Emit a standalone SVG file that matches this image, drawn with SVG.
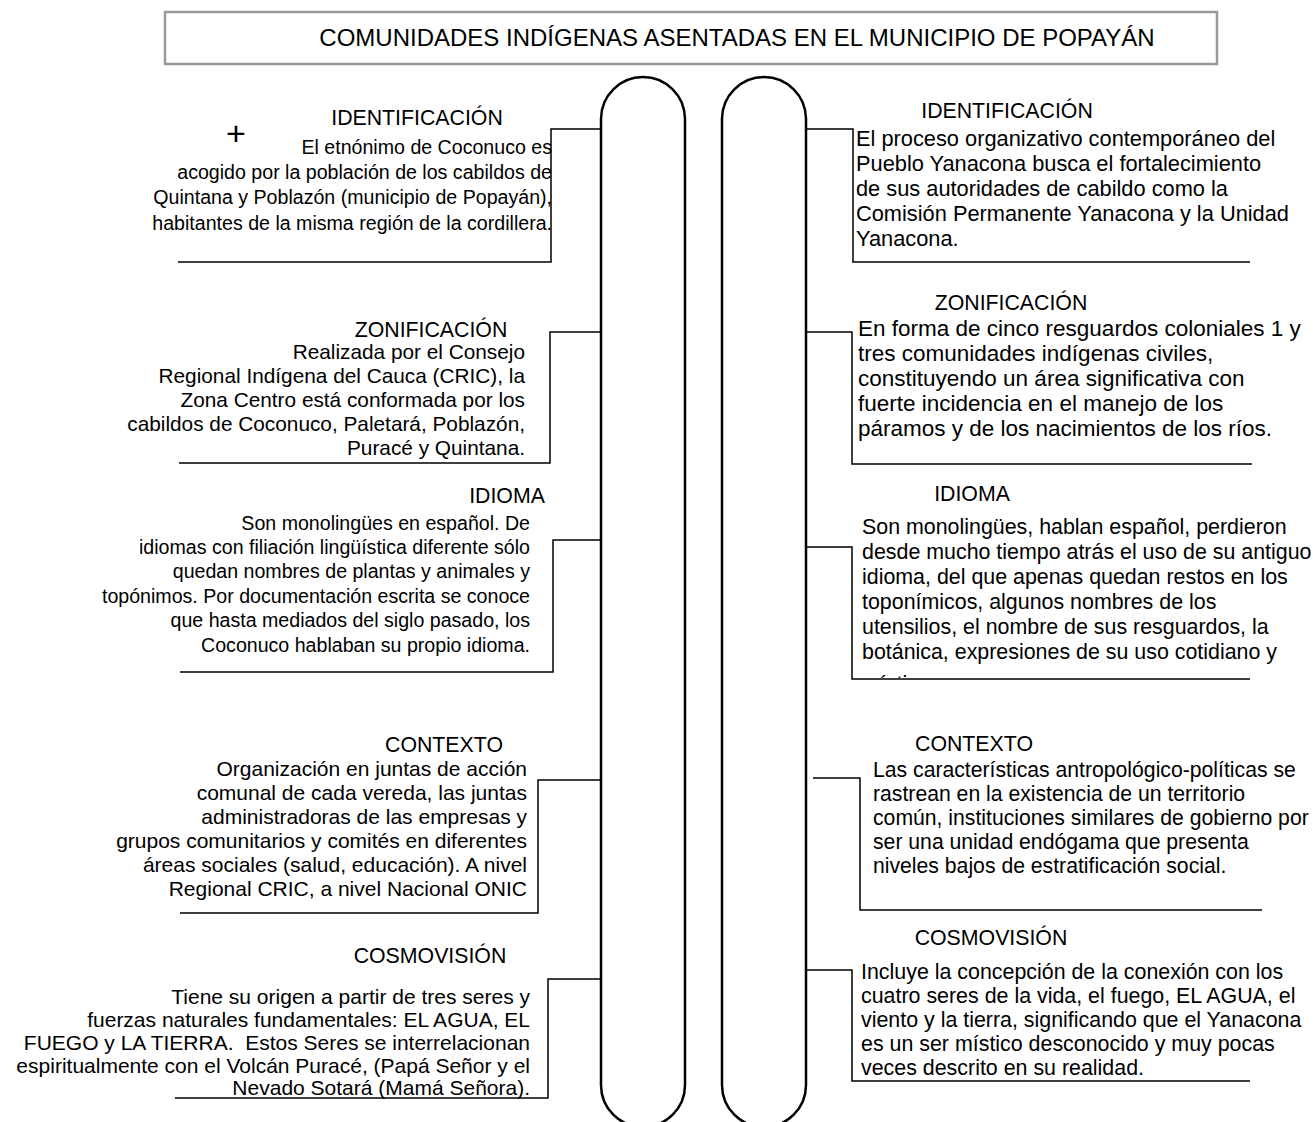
<svg xmlns="http://www.w3.org/2000/svg" width="1313" height="1122" viewBox="0 0 1313 1122" font-size="21">
  <style>
    text { font-family: "Liberation Sans", Arial, sans-serif; fill: #000; }
    .h { text-anchor: middle; font-size: 21.3px; }
    .r { text-anchor: end; }
    .ln { fill: none; stroke: #000; stroke-width: 1.5; }
    .pillar { fill: none; stroke: #000; stroke-width: 2.5; }
    .s196 { font-size: 19.6px; }
    .s208 { font-size: 20.8px; }
    .s210 { font-size: 21px; }
    .s212 { font-size: 21.2px; }
    .s214 { font-size: 21.4px; }
    .s218 { font-size: 21.8px; }
    .s225 { font-size: 22.5px; }
  </style>
  <defs>
    <clipPath id="clipIdiomaR"><rect x="850" y="480" width="463" height="198"/></clipPath>
  </defs>
  <rect width="1313" height="1122" fill="#fff"/>

  <!-- title banner -->
  <g id="title">
    <rect x="165" y="12" width="1052" height="52" fill="#fff" stroke="#999" stroke-width="2.5"/>
    <text x="737" y="46" class="h" style="font-size:24px">COMUNIDADES INDÍGENAS ASENTADAS EN EL MUNICIPIO DE POPAYÁN</text>
  </g>

  <!-- the two central columns -->
  <g id="column-left"><rect class="pillar" x="601" y="77" width="84" height="1050" rx="42"/></g>
  <g id="column-right"><rect class="pillar" x="722" y="77" width="84" height="1050" rx="42"/></g>

  <!-- bracket connectors -->
  <g id="connectors">
    <polyline class="ln" points="601,129 551,129 551,262 178,262"/>
    <polyline class="ln" points="601,332 550,332 550,463 179,463"/>
    <polyline class="ln" points="601,540 553,540 553,672 180,672"/>
    <polyline class="ln" points="601,780 538,780 538,913 180,913"/>
    <polyline class="ln" points="601,979 548,979 548,1098 175,1098"/>
    <polyline class="ln" points="806,129 853,129 853,262 1250,262"/>
    <polyline class="ln" points="806,332 852,332 852,464 1252,464"/>
    <polyline class="ln" points="806,547 852,547 852,679 1250,679"/>
    <polyline class="ln" points="813,778 860,778 860,910 1262,910"/>
    <polyline class="ln" points="806,970 852,970 852,1081 1250,1081"/>
  </g>

  <!-- Coconuco (left) -->
  <g id="coconuco-identificacion">
    <text x="236" y="145" class="h" style="font-size:34px">+</text>
    <text x="417" y="125" class="h">IDENTIFICACIÓN</text>
    <g class="s196">
      <text x="552" y="154" class="r">El etnónimo de Coconuco es</text>
      <text x="552" y="179" class="r">acogido por la población de los cabildos de</text>
      <text x="552" y="204" class="r">Quintana y Poblazón (municipio de Popayán),</text>
      <text x="552" y="230" class="r">habitantes de la misma región de la cordillera.</text>
    </g>
  </g>
  <g id="coconuco-zonificacion">
    <text x="431" y="337" class="h">ZONIFICACIÓN</text>
    <g class="s208">
      <text x="525" y="359" class="r">Realizada por el Consejo</text>
      <text x="525" y="383" class="r">Regional Indígena del Cauca (CRIC), la</text>
      <text x="525" y="407" class="r">Zona Centro está conformada por los</text>
      <text x="525" y="431" class="r">cabildos de Coconuco, Paletará, Poblazón,</text>
      <text x="525" y="455" class="r">Puracé y Quintana.</text>
    </g>
  </g>
  <g id="coconuco-idioma">
    <text x="507" y="503" class="h">IDIOMA</text>
    <g class="s196">
      <text x="530" y="530" class="r">Son monolingües en español. De</text>
      <text x="530" y="554" class="r">idiomas con filiación lingüística diferente sólo</text>
      <text x="530" y="578" class="r">quedan nombres de plantas y animales y</text>
      <text x="530" y="603" class="r">topónimos. Por documentación escrita se conoce</text>
      <text x="530" y="627" class="r">que hasta mediados del siglo pasado, los</text>
      <text x="530" y="652" class="r">Coconuco hablaban su propio idioma.</text>
    </g>
  </g>
  <g id="coconuco-contexto">
    <text x="444" y="752" class="h">CONTEXTO</text>
    <g class="s210">
      <text x="527" y="776" class="r">Organización en juntas de acción</text>
      <text x="527" y="800" class="r">comunal de cada vereda, las juntas</text>
      <text x="527" y="824" class="r">administradoras de las empresas y</text>
      <text x="527" y="848" class="r">grupos comunitarios y comités en diferentes</text>
      <text x="527" y="872" class="r">áreas sociales (salud, educación). A nivel</text>
      <text x="527" y="896" class="r">Regional CRIC, a nivel Nacional ONIC</text>
    </g>
  </g>
  <g id="coconuco-cosmovision">
    <text x="430" y="963" class="h">COSMOVISIÓN</text>
    <g class="s210">
      <text x="530" y="1004" class="r">Tiene su origen a partir de tres seres y</text>
      <text x="530" y="1027" class="r">fuerzas naturales fundamentales: EL AGUA, EL</text>
      <text x="530" y="1050" class="r" xml:space="preserve">FUEGO y LA TIERRA.  Estos Seres se interrelacionan</text>
      <text x="530" y="1073" class="r">espiritualmente con el Volcán Puracé, (Papá Señor y el</text>
      <text x="530" y="1095" class="r">Nevado Sotará (Mamá Señora).</text>
    </g>
  </g>

  <!-- Yanacona (right) -->
  <g id="yanacona-identificacion">
    <text x="1007" y="118" class="h">IDENTIFICACIÓN</text>
    <g class="s218">
      <text x="856" y="146">El proceso organizativo contemporáneo del</text>
      <text x="856" y="171">Pueblo Yanacona busca el fortalecimiento</text>
      <text x="856" y="196">de sus autoridades de cabildo como la</text>
      <text x="856" y="221">Comisión Permanente Yanacona y la Unidad</text>
      <text x="856" y="246">Yanacona.</text>
    </g>
  </g>
  <g id="yanacona-zonificacion">
    <text x="1011" y="310" class="h">ZONIFICACIÓN</text>
    <g class="s225">
      <text x="858" y="336">En forma de cinco resguardos coloniales 1 y</text>
      <text x="858" y="361">tres comunidades indígenas civiles,</text>
      <text x="858" y="386">constituyendo un área significativa con</text>
      <text x="858" y="411">fuerte incidencia en el manejo de los</text>
      <text x="858" y="436">páramos y de los nacimientos de los ríos.</text>
    </g>
  </g>
  <g id="yanacona-idioma">
    <text x="972" y="501" class="h">IDIOMA</text>
    <g clip-path="url(#clipIdiomaR)" class="s214">
      <text x="862" y="534">Son monolingües, hablan español, perdieron</text>
      <text x="862" y="559">desde mucho tiempo atrás el uso de su antiguo</text>
      <text x="862" y="584">idioma, del que apenas quedan restos en los</text>
      <text x="862" y="609">toponímicos, algunos nombres de los</text>
      <text x="862" y="634">utensilios, el nombre de sus resguardos, la</text>
      <text x="862" y="659">botánica, expresiones de su uso cotidiano y</text>
      <text x="862" y="691">místico.</text>
    </g>
  </g>
  <g id="yanacona-contexto">
    <text x="974" y="751" class="h">CONTEXTO</text>
    <g class="s212">
      <text x="873" y="777">Las características antropológico-políticas se</text>
      <text x="873" y="801">rastrean en la existencia de un territorio</text>
      <text x="873" y="825">común, instituciones similares de gobierno por</text>
      <text x="873" y="849">ser una unidad endógama que presenta</text>
      <text x="873" y="873">niveles bajos de estratificación social.</text>
    </g>
  </g>
  <g id="yanacona-cosmovision">
    <text x="991" y="945" class="h">COSMOVISIÓN</text>
    <g class="s214">
      <text x="861" y="979">Incluye la concepción de la conexión con los</text>
      <text x="861" y="1003">cuatro seres de la vida, el fuego, EL AGUA, el</text>
      <text x="861" y="1027">viento y la tierra, significando que el Yanacona</text>
      <text x="861" y="1051">es un ser místico desconocido y muy pocas</text>
      <text x="861" y="1075">veces descrito en su realidad.</text>
    </g>
  </g>
</svg>
